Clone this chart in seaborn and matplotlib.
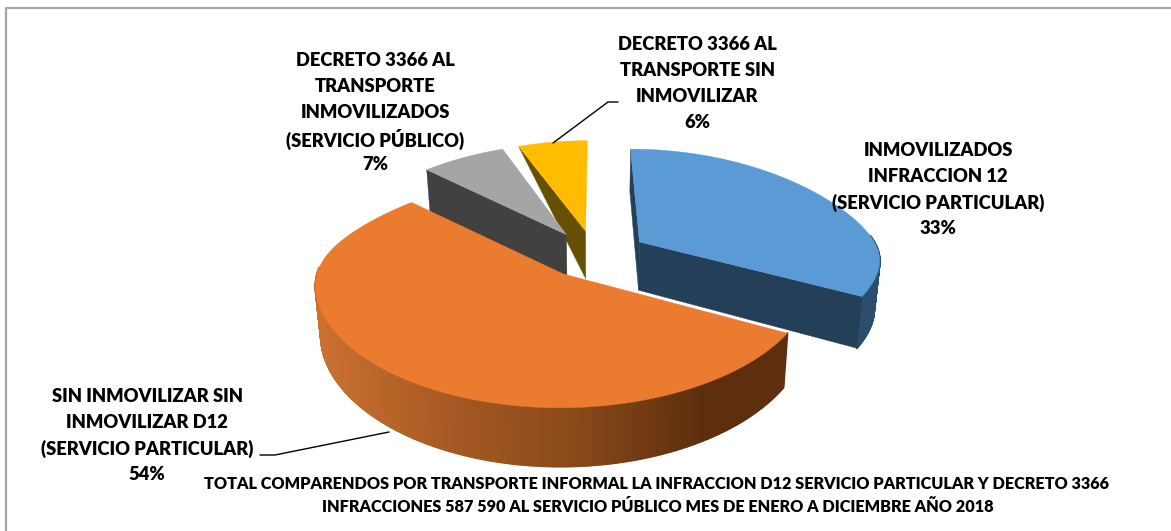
import numpy as np
import matplotlib
matplotlib.use('Agg')
import matplotlib.pyplot as plt
import seaborn as sns

# valores del grafico (en %), empezando arriba y en sentido horario
categories = [
    'INMOVILIZADOS\nINFRACCION 12\n(SERVICIO PARTICULAR)',
    'SIN INMOVILIZAR SIN\nINMOVILIZAR D12\n(SERVICIO PARTICULAR)',
    'DECRETO 3366 AL\nTRANSPORTE\nINMOVILIZADOS\n(SERVICIO PÚBLICO)',
    'DECRETO 3366 AL\nTRANSPORTE SIN\nINMOVILIZAR',
]
shares = [33, 54, 7, 6]
top_colors = ['#5B9BD5', '#EA7B2F', '#A5A5A5', '#FFBC00']
wall_colors = ['#243F58', '#5E2F0E', '#414141', '#665000']
title_lines = [
    'TOTAL COMPARENDOS POR TRANSPORTE INFORMAL LA INFRACCION D12 SERVICIO PARTICULAR Y DECRETO 3366',
    'INFRACCIONES 587 590 AL SERVICIO PÚBLICO MES DE ENERO A DICIEMBRE AÑO 2018',
]

# posicion de las etiquetas (centro x, centro y del bloque)
label_pos = [(938, 189.5), (147, 435.5), (375, 113), (697, 83)]
LINE_STEP = 26

# camara
X0, Y0 = 595, 254
RX, RY = 240, 109
K = 0.14
KX_BACK = 0.25
KX_FRONT = 0.10
DEPTH = 49
EXPLODE = 0.22


def project(wx, wy, drop=0.0):
    wx, wy = np.asarray(wx, dtype=float), np.asarray(wy, dtype=float)
    s = 1 / (1 - K * wy)
    kx = KX_FRONT + (KX_BACK - KX_FRONT) * 0.5 * (1 - np.tanh(wy * 3))
    sx = 1 / (1 - kx * wy)
    return X0 + wx * RX * sx * (1 - 0.02 * drop), Y0 + wy * RY * s + drop * DEPTH * s


def slice_points(a0, a1, mid):
    ang = np.radians(np.linspace(a0, a1, int(a1 - a0) * 2 + 2))
    cx = EXPLODE * np.sin(np.radians(mid))
    cy = -EXPLODE * np.cos(np.radians(mid))
    return cx, cy, cx + np.sin(ang), cy - np.cos(ang)


def wall_quad(ax, wx, wy, color, outer_drop=1.0):
    # cara de corte: centro -> borde
    tx, ty = project(wx, wy)
    bx0, by0 = project(wx[0], wy[0], 1.0)
    bx1, by1 = project(wx[1], wy[1], outer_drop)
    ax.fill([tx[0], tx[1], bx1, bx0], [ty[0], ty[1], by1, by0],
            color=color, lw=0.3, zorder=2)


def draw_slice(ax, i, a0, a1):
    mid = (a0 + a1) / 2
    cx, cy, ox, oy = slice_points(a0, a1, mid)

    # pared exterior, tramo a tramo para el degradado
    tx, ty = project(ox, oy)
    bx, by = project(ox, oy, 1.0)
    if i == 1:
        ramp = sns.blend_palette(['#CB7130', '#A85A24', '#8A4A1A', wall_colors[1]], 200)
    for j in range(len(ox) - 1):
        if oy[j] - cy < -0.05 and oy[j + 1] - cy < -0.05:
            continue
        if i == 1:
            pos = np.clip((tx[j] - 315) / (700 - 315), 0, 1)
            c = ramp[int(pos * 199)]
        elif i == 0:
            c = '#2C4E6E'
        else:
            c = wall_colors[i]
        ax.fill([tx[j], tx[j + 1], bx[j + 1], bx[j]],
                [ty[j], ty[j + 1], by[j + 1], by[j]],
                color=c, lw=1.5, zorder=2, joinstyle='round')

    # caras de corte visibles
    if i == 0:
        wall_quad(ax, [cx, ox[0]], [cy, oy[0]], wall_colors[0])
        wall_quad(ax, [cx, ox[-1]], [cy, oy[-1]], wall_colors[0])
    if i == 2:
        wall_quad(ax, [cx, ox[0]], [cy, oy[0]], wall_colors[2])
    if i == 3:
        wall_quad(ax, [cx, ox[0]], [cy, oy[0]], wall_colors[3], outer_drop=0.0)

    # cara superior
    px, py = project(np.r_[cx, ox], np.r_[cy, oy])
    ax.fill(px, py, color=top_colors[i], lw=0.3, zorder=3)


sns.set_theme(style='white')
plt.rcParams['font.family'] = ['Lato', 'DejaVu Sans']

fig, ax = plt.subplots(figsize=(11.71, 5.31), dpi=100)
fig.subplots_adjust(left=0, right=1, bottom=0, top=1)
ax.set_xlim(0, 1171)
ax.set_ylim(531, 0)
ax.axis('off')

# marco (solo se ve arriba e izquierda)
ax.plot([5.5, 5.5, 1171], [531, 8, 8], color='#A6A6A6', lw=1.6, zorder=1)

edges = np.r_[0, np.cumsum(shares)] / np.sum(shares) * 360
for i in [3, 2, 1, 0]:
    draw_slice(ax, i, edges[i], edges[i + 1])

# lineas guia
ax.plot([553, 608, 618], [143, 102, 102], color='black', lw=1, zorder=4)
ax.plot([389, 275, 260], [432, 455, 455], color='black', lw=1, zorder=4)

for name, share, (lx, ly) in zip(categories, shares, label_pos):
    rows = name.split('\n') + [f'{share}%']
    for k, row in enumerate(rows):
        ax.text(lx, ly + (k - (len(rows) - 1) / 2) * LINE_STEP, row, ha='center', va='center',
                fontsize=13.2, fontweight='heavy', color='black', zorder=5)

ax.text(656.5, 484, title_lines[0], ha='center', va='center', fontsize=11.7,
        fontweight='heavy', color='black')
ax.text(658, 507, title_lines[1], ha='center', va='center', fontsize=11.7,
        fontweight='heavy', color='black')

fig.savefig('out.png', dpi=100, facecolor='white')
